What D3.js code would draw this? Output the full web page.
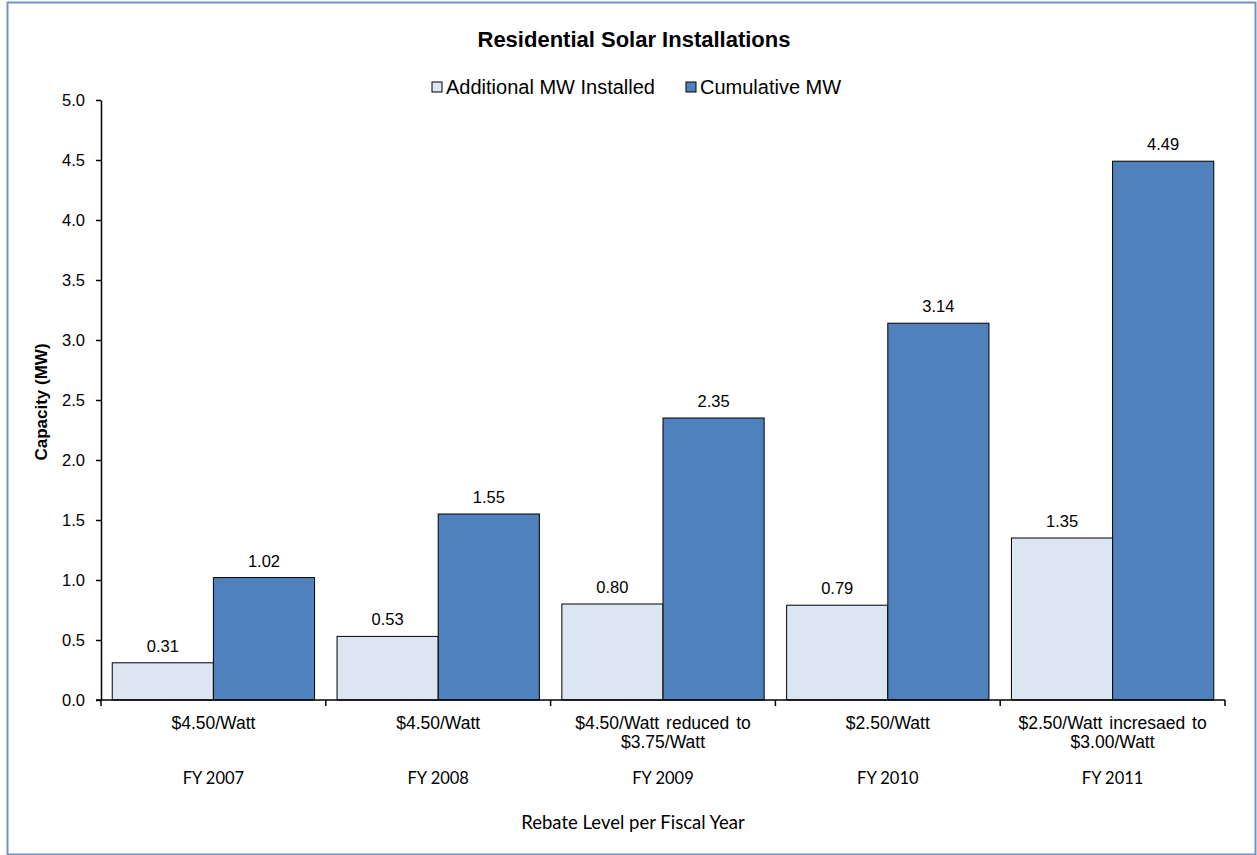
<!DOCTYPE html>
<html>
<head>
<meta charset="utf-8">
<script src="https://cdn.jsdelivr.net/npm/d3@7"></script>
<style>
  body { margin: 0; background: #fff; }
  svg text { font-family: "Liberation Sans", Arial, sans-serif; fill: #000; }
</style>
</head>
<body>
<svg id="chart" width="1257" height="855"></svg>
<script>
var years = ['FY 2007', 'FY 2008', 'FY 2009', 'FY 2010', 'FY 2011']
var rebates = [
  ['$4.50/Watt'],
  ['$4.50/Watt'],
  ['$4.50/Watt reduced to', '$3.75/Watt'],
  ['$2.50/Watt'],
  ['$2.50/Watt incresaed to', '$3.00/Watt']
]
var additional = [0.31, 0.53, 0.80, 0.79, 1.35]
var cumulative = [1.02, 1.55, 2.35, 3.14, 4.49]
var seriesNames = ['Additional MW Installed', 'Cumulative MW']
var colors = ['#dce6f2', '#4f81bd']
var yTicks = [0, 0.5, 1, 1.5, 2, 2.5, 3, 3.5, 4, 4.5, 5]

var svg = d3.select('#chart')
var margin = { left: 101, right: 32, top: 100, bottom: 155 }
var width = 1257, height = 855

// outer frame
svg.append('rect')
  .attr('x', 7.5).attr('y', 2.5)
  .attr('width', 1248).attr('height', 852)
  .attr('fill', 'none').attr('stroke', '#6f93c6').attr('stroke-width', 2)

var x = d3.scaleBand()
  .domain(years)
  .range([margin.left, width - margin.right])
  .paddingInner(0.1).paddingOuter(0.05)

var xInner = d3.scaleBand()
  .domain([0, 1])
  .range([0, x.bandwidth()])

var y = d3.scaleLinear()
  .domain([0, 5])
  .range([height - margin.bottom, margin.top])

// bars
var groups = svg.append('g').selectAll('g')
  .data(years)
  .join('g')
  .attr('transform', function (d) { return 'translate(' + x(d) + ',0)' })

groups.each(function (d, i) {
  var vals = [additional[i], cumulative[i]]
  var g = d3.select(this)
  g.selectAll('rect')
    .data(vals)
    .join('rect')
    .attr('x', function (v, j) { return xInner(j) })
    .attr('y', function (v) { return y(v) })
    .attr('width', xInner.bandwidth())
    .attr('height', function (v) { return y(0) - y(v) })
    .attr('fill', function (v, j) { return colors[j] })
    .attr('stroke', '#000').attr('stroke-width', 1)
  g.selectAll('text.val')
    .data(vals)
    .join('text')
    .attr('class', 'val')
    .attr('x', function (v, j) { return xInner(j) + xInner.bandwidth() / 2 })
    .attr('y', function (v) { return y(v) - 11 })
    .attr('text-anchor', 'middle')
    .style('font-size', '16.5px')
    .text(function (v) { return v.toFixed(2) })
})

// y axis
var yAxis = svg.append('g')
  .attr('transform', 'translate(' + margin.left + ',0)')
  .call(d3.axisLeft(y).tickValues(yTicks).tickFormat(d3.format('.1f')).tickSize(5).tickSizeOuter(0))
yAxis.select('.domain').attr('stroke', '#000').attr('stroke-width', 1.5)
yAxis.selectAll('.tick line').attr('stroke', '#000').attr('stroke-width', 1.5)
yAxis.selectAll('.tick text')
  .attr('x', -16)
  .style('font-size', '16.5px')
  .style('font-family', '"Liberation Sans", Arial, sans-serif')

// x axis: ticks at category boundaries
var bounds = years.map(function (d) { return x(d) - x.step() * x.paddingInner() / 2 })
bounds.push(width - margin.right)
var xAxis = svg.append('g')
xAxis.append('line')
  .attr('x1', margin.left - 5).attr('x2', width - margin.right)
  .attr('y1', y(0)).attr('y2', y(0))
  .attr('stroke', '#000').attr('stroke-width', 1.5)
xAxis.selectAll('line.tk')
  .data(bounds)
  .join('line')
  .attr('class', 'tk')
  .attr('x1', function (d) { return d }).attr('x2', function (d) { return d })
  .attr('y1', y(0)).attr('y2', y(0) + 6)
  .attr('stroke', '#000').attr('stroke-width', 1.5)

var labels = xAxis.selectAll('g.lbl')
  .data(years)
  .join('g')
  .attr('class', 'lbl')
  .attr('transform', function (d) { return 'translate(' + (x(d) + x.bandwidth() / 2) + ',0)' })

labels.each(function (d, i) {
  var t = d3.select(this).append('text')
    .attr('text-anchor', 'middle')
    .style('font-size', '17.5px')
    .style('word-spacing', '2px')
  rebates[i].forEach(function (line, k) {
    t.append('tspan').attr('x', 0).attr('y', 729 + k * 19).text(line)
  })
  d3.select(this).append('text')
    .attr('text-anchor', 'middle')
    .attr('y', 784)
    .style('font-size', '16.5px')
    .style('font-family', 'Lato, "Open Sans", sans-serif')
    .text(d)
})

// axis titles
svg.append('text')
  .attr('x', 633)
  .attr('y', 829)
  .attr('text-anchor', 'middle')
  .style('font-size', '18.5px')
  .style('font-family', 'Lato, "Open Sans", sans-serif')
  .text('Rebate Level per Fiscal Year')

svg.append('text')
  .attr('transform', 'translate(47,402) rotate(-90)')
  .attr('text-anchor', 'middle')
  .style('font-size', '17px')
  .style('font-weight', 'bold')
  .text('Capacity (MW)')

// title
svg.append('text')
  .attr('x', 634).attr('y', 47)
  .attr('text-anchor', 'middle')
  .style('font-size', '22px')
  .style('font-weight', 'bold')
  .text('Residential Solar Installations')

// legend
var legend = svg.append('g')
var legendX = [432, 686]
seriesNames.forEach(function (name, i) {
  legend.append('rect')
    .attr('x', legendX[i]).attr('y', 82)
    .attr('width', 10).attr('height', 10)
    .attr('fill', colors[i]).attr('stroke', '#000').attr('stroke-width', 1)
  legend.append('text')
    .attr('x', legendX[i] + 14).attr('y', 94)
    .style('font-size', '20px')
    .text(name)
})
</script>
</body>
</html>
